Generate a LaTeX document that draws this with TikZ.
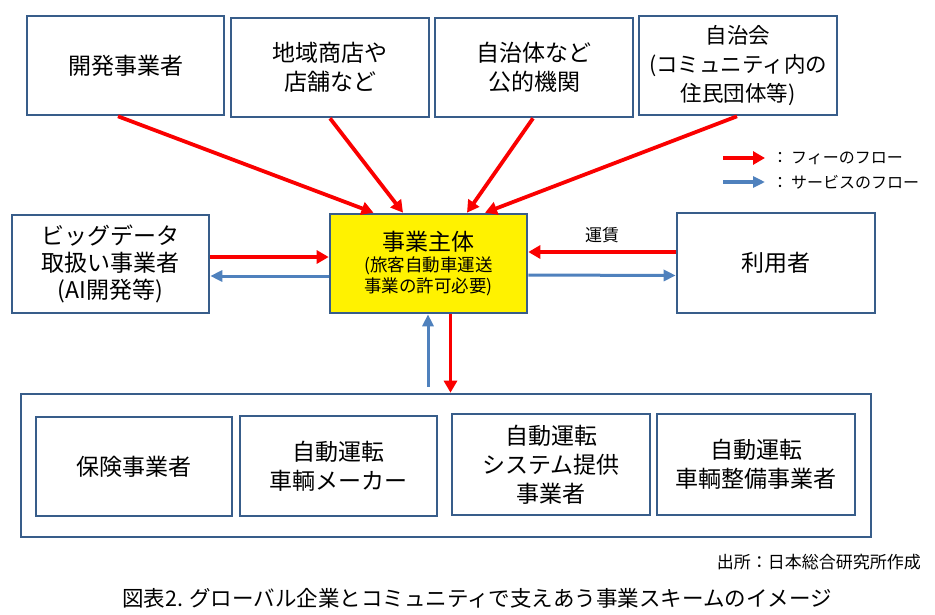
\documentclass[tikz,border=0pt]{standalone}
\usepackage{fontspec}
\setmainfont{Noto Sans CJK JP}
\usetikzlibrary{arrows.meta}
\definecolor{boxc}{RGB}{56,93,138}
\definecolor{feec}{RGB}{250,0,0}
\definecolor{svcc}{RGB}{79,129,189}
\begin{document}
\begin{tikzpicture}[x=1pt,y=-1pt,
  box/.style={draw=boxc,line width=2.6pt,fill=white,inner sep=0pt,align=center,
    font=\fontsize{23}{29}\selectfont},
  fee/.style={draw=feec,line width=3.8pt,-{Triangle[length=12pt,width=13pt]}},
  svc/.style={draw=svcc,line width=3pt,-{Triangle[length=12pt,width=11pt]}},
  lbl/.style={inner sep=0pt,font=\fontsize{16}{20}\selectfont}]
\useasboundingbox[fill=white] (0,0) rectangle (935,614);
% top row
\node[box,minimum width=197pt,minimum height=99pt] (dev) at (125.5,65.5) {開発事業者};
\node[box,minimum width=198pt,minimum height=99pt] (shop) at (330,67.5) {地域商店や\\店舗など};
\node[box,minimum width=198pt,minimum height=99pt] (gov) at (534,67.5) {自治体など\\公的機関};
\node[box,minimum width=198pt,minimum height=99pt,font=\fontsize{21.5}{29}\selectfont] (comm) at (738,65.5) {自治会\\(コミュニティ内の\\住民団体等)};
% middle row
\node[box,minimum width=197pt,minimum height=98pt,font=\fontsize{23}{27}\selectfont] (big) at (110.5,264) {ビッグデータ\\取扱い事業者\\(AI開発等)};
\node[box,fill=yellow,minimum width=197pt,minimum height=99pt,font=\fontsize{17.5}{21}\selectfont] (main) at (428.5,263.5) {{\fontsize{23}{27}\selectfont 事業主体}\\(旅客自動車運送\\事業の許可必要)};
\node[box,minimum width=198pt,minimum height=100pt] (user) at (776,263) {利用者};
% bottom group
\node[box,minimum width=850pt,minimum height=143pt] (outer) at (446,465.5) {};
\node[box,minimum width=196pt,minimum height=99pt] (ins) at (134,466.5) {保険事業者};
\node[box,minimum width=197pt,minimum height=100pt] (maker) at (338.5,466) {自動運転\\車輌メーカー};
\node[box,minimum width=198pt,minimum height=101pt] (sys) at (551,464.5) {自動運転\\システム提供\\事業者};
\node[box,minimum width=198pt,minimum height=101pt] (maint) at (756,464.5) {自動運転\\車輌整備事業者};
% fee arrows from top
\draw[fee] ([xshift=-7.5pt]dev.south) -- ([xshift=-55pt]main.north);
\draw[fee] (shop.south) -- ([xshift=-25.5pt]main.north);
\draw[fee] ([xshift=-1pt]gov.south) -- ([xshift=38.5pt]main.north);
\draw[fee] ([xshift=-1pt]comm.south) -- ([xshift=56.5pt]main.north);
% big data
\draw[fee] ([yshift=7pt]big.east) -- ([yshift=6.5pt]main.west);
\draw[svc] ([yshift=-12.5pt]main.west) -- ([yshift=-12pt]big.east);
% user
\draw[fee] ([yshift=11pt]user.west) -- ([yshift=11.5pt]main.east) node[midway,above=7pt,lbl,font=\fontsize{17}{20}\selectfont] (fare) {運賃};
\draw[svc] ([yshift=-11.5pt]main.east) -- ([yshift=-12.5pt]user.west);
% vertical
\draw[svc] ([xshift=-18pt,yshift=6pt]outer.north) -- ([xshift=-0.5pt]main.south);
\draw[fee] ([xshift=22pt]main.south) -- ([xshift=4.5pt]outer.north);
% legend
\coordinate (lr1) at (723,158); \coordinate (lr2) at (765,158);
\coordinate (lb1) at (723,182); \coordinate (lb2) at (765,182);
\draw[fee,line width=3.5pt] (lr1) -- (lr2);
\draw[svc,line width=3.5pt] (lb1) -- (lb2);
\node[lbl,anchor=west] (legf) at (772,158) {：\hspace{3pt}フィーのフロー};
\node[lbl,anchor=west] (legs) at (772,182) {：\hspace{3pt}サービスのフロー};
% source and caption
\node[lbl,anchor=east,font=\fontsize{17}{20}\selectfont] (src) at (921,562) {出所：日本総合研究所作成};
\node[inner sep=0pt,font=\fontsize{21.5}{24}\selectfont] (cap) at (477,598) {図表2. グローバル企業とコミュニティで支えあう事業スキームのイメージ};
\end{tikzpicture}
\end{document}
